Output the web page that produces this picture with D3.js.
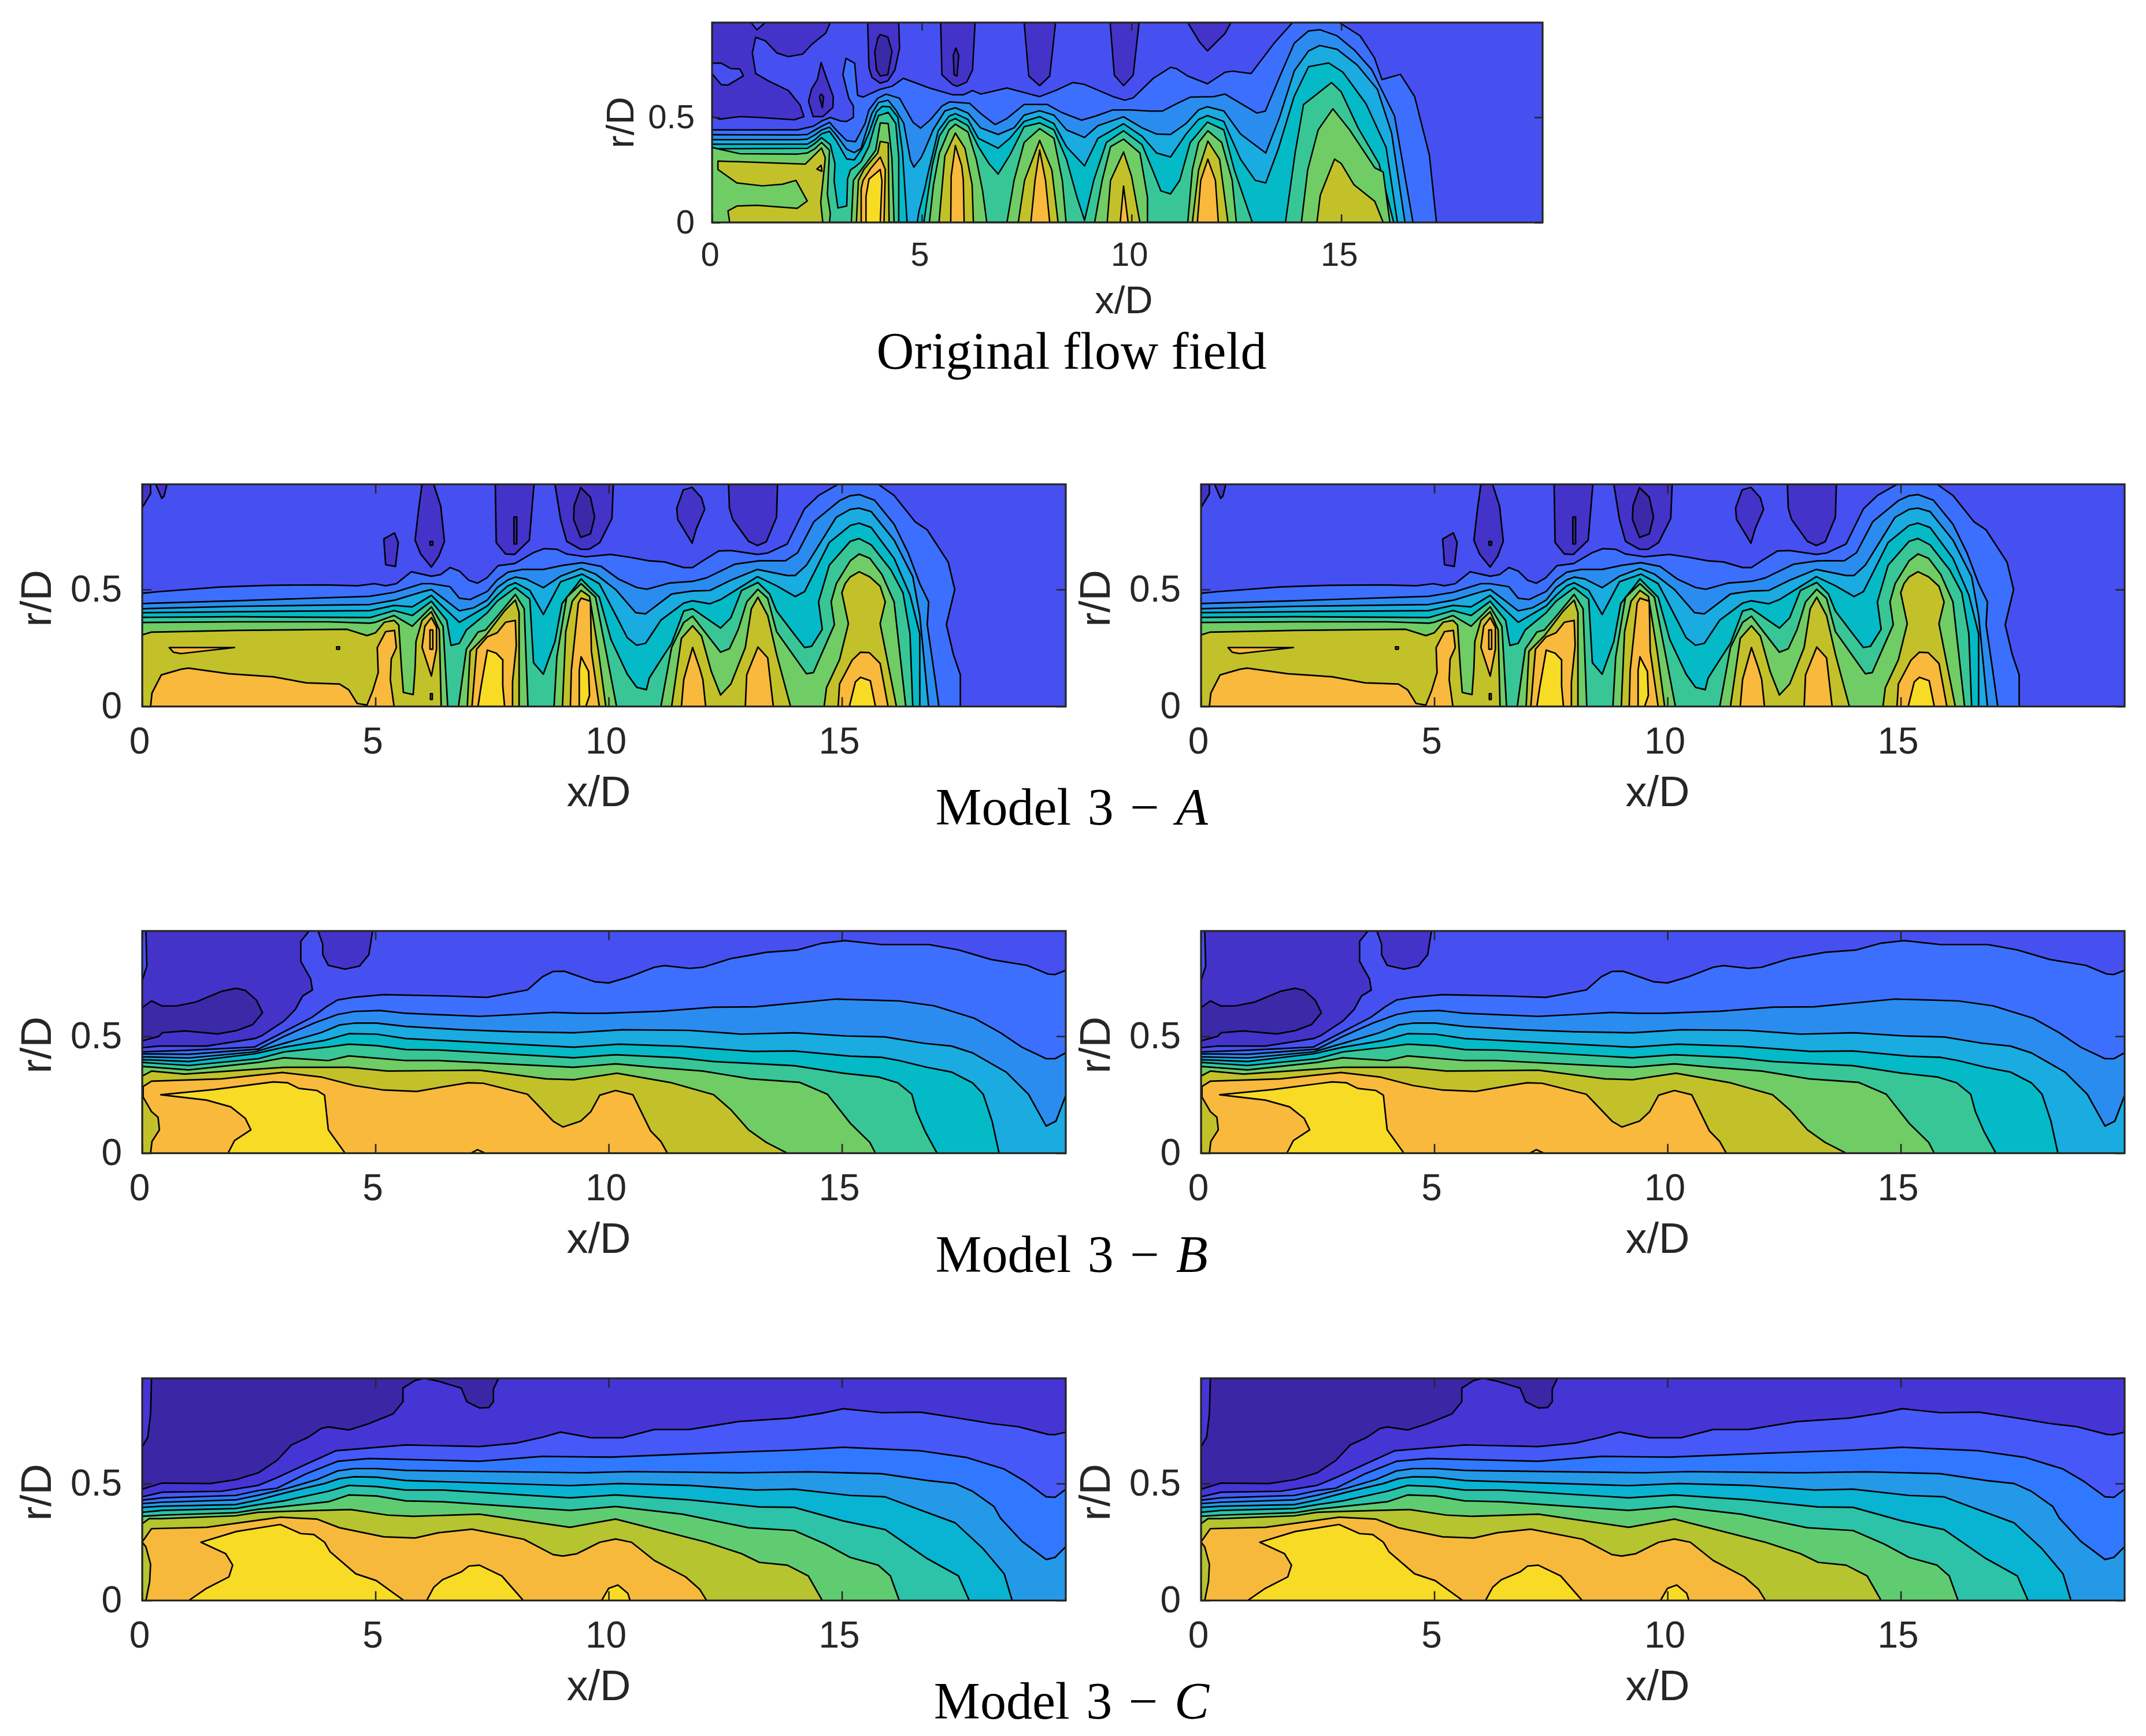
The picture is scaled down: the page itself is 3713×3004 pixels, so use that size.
<!DOCTYPE html>
<html><head><meta charset="utf-8"><style>html,body{margin:0;background:#fff}</style>
<script src="https://cdn.jsdelivr.net/npm/d3@7"></script></head><body><svg id="c" width="3713" height="3004" xmlns="http://www.w3.org/2000/svg"></svg>
<script>
// Contour outlines, as flat x/D, r/D lists.
const xTicks=[0,5,10,15], rTicks=[0,0.5];
const bandsAB=["#3b2aa8","#4433c9","#4650f0","#3c6ffe","#2b8cf0","#1aabe0","#04bac6","#38c697","#70cc64","#c2c12a","#f8b93c","#f7db24"];
const bandsC=["#3b27a5","#4535d5","#4658f7","#3078ff","#2499e8","#08b4d2","#2cc3a8","#60cc72","#b5c42f","#f7b93c","#f7db24"];

// ---- Original flow field
const oHole1=[0,.95,.93,.95,1.07,.915,1.27,.95,2.82,.95,2.71,.9,2.37,.845,2.16,.8,1.82,.788,1.55,.805,1.27,.863,1.04,.88,.96,.806,1.04,.708,1.34,.673,1.82,.627,2.1,.558,2.19,.503,1.96,.488,1.07,.5,.66,.503,.18,.491,0,.503,0,.707,.22,.655,.38,.653,.75,.697,.66,.73,.45,.731,.22,.757,0,.757];
const oHole2=[2.6,.76,2.71,.696,2.89,.598,2.88,.546,2.64,.503,2.41,.503,2.3,.575,2.37,.633,2.51,.679];
const oHole3=[3.71,.95,3.74,.737,3.81,.69,4.01,.662,4.19,.673,4.36,.725,4.47,.829,4.45,.95];
const oHole4=[5.45,.95,5.48,.702,5.73,.656,5.84,.647,6.07,.667,6.21,.725,6.27,.95];
const oHole5=[7.44,.95,7.55,.696,7.81,.65,8.05,.696,8.19,.95];
const oHole6=[9.49,.95,9.59,.7,9.81,.65,10.04,.7,10.18,.95];
const oHole7=[11.34,.95,11.62,.858,11.81,.815,12.23,.898,12.37,.95];
const oDeep1=[2.6,.61,2.66,.597,2.63,.545,2.56,.597];
const oDeep2=[4.01,.893,4.19,.881,4.29,.812,4.19,.702,4.01,.696,3.92,.725,3.88,.812,3.95,.875];
const oDeep3=[5.81,.829,5.88,.794,5.84,.696,5.77,.702,5.75,.794];
const oK3=[0,.44,1,.44,2.04,.44,2.41,.457,2.61,.482,2.82,.499,3.07,.482,3.21,.48,3.37,.499,3.37,.553,3.26,.59,3.12,.702,3.19,.78,3.4,.757,3.47,.604,3.6,.596,4.01,.633,4.29,.647,4.56,.685,5.18,.639,5.73,.607,6,.607,6.21,.627,6.41,.61,7.03,.639,7.37,.621,7.81,.598,8.19,.627,8.6,.665,8.88,.656,9.56,.598,9.84,.581,10.04,.592,10.52,.685,10.93,.737,11.07,.731,11.34,.696,11.81,.659,12.23,.714,12.41,.719,12.85,.708,13.4,.852,13.84,.95,14.95,.95,15.45,.887,15.79,.783,15.97,.679,16.41,.704,16.75,.598,17.1,.321,17.27,0,0,0];
const oK4=[0,.417,2.04,.416,2.27,.418,2.45,.439,2.61,.457,2.8,.476,2.96,.439,3.21,.389,3.42,.384,3.65,.471,3.74,.535,3.95,.59,4.15,.61,4.47,.59,4.79,.476,4.97,.448,5.21,.489,5.48,.553,5.66,.573,6.14,.566,6.41,.517,6.75,.465,7.03,.494,7.44,.561,7.99,.561,8.33,.523,8.81,.486,9.15,.506,9.56,.535,9.97,.535,10.45,.529,10.73,.529,11.07,.564,11.41,.596,11.96,.598,12.23,.61,12.99,.52,13.19,.529,13.53,.691,13.88,.852,14.22,.91,14.49,.916,14.9,.887,15.32,.818,15.73,.725,16.27,.506,16.71,0,0,0];
const oK5=[0,.393,2.04,.393,2.27,.396,2.45,.416,2.61,.439,2.8,.453,2.96,.416,3.21,.348,3.39,.332,3.55,.352,3.65,.416,3.81,.517,3.97,.57,4.2,.581,4.38,.535,4.57,.471,4.73,.297,4.81,.263,4.98,.307,5.07,.345,5.27,.44,5.55,.53,5.8,.545,6.1,.52,6.4,.45,6.82,.418,7.2,.45,7.44,.51,7.81,.531,8.15,.51,8.45,.44,8.88,.404,9.2,.46,9.81,.502,10.25,.45,10.6,.42,10.93,.418,11.3,.47,11.6,.535,11.81,.55,12.2,.53,12.6,.42,13.2,.33,13.53,.5,13.88,.72,14.22,.815,14.49,.841,14.9,.823,15.38,.748,15.86,.633,16.2,.425,16.52,0,0,0];
const oK6=[0,.372,2.27,.372,2.45,.393,2.61,.421,2.8,.433,2.96,.389,3.21,.302,3.39,.297,3.58,.352,3.74,.425,3.92,.526,4.06,.552,4.24,.549,4.43,.5,4.54,.334,4.65,0,4.89,0,4.93,.05,5.07,.16,5.16,.243,5.25,.316,5.39,.435,5.65,.505,5.8,.517,6.1,.49,6.35,.4,6.82,.353,7.1,.4,7.44,.48,7.81,.503,8.15,.47,8.45,.36,8.88,.269,9.2,.4,9.81,.469,10.25,.41,10.6,.33,10.93,.311,11.3,.42,11.6,.49,11.81,.508,12.2,.48,12.6,.3,12.95,.2,13.2,.188,13.5,.35,13.88,.6,14.22,.74,14.7,.758,15.04,.714,15.59,.564,16.07,.356,16.34,0,0,0];
const oK7=[0,.35,2.27,.352,2.45,.375,2.61,.403,2.82,.37,2.93,.279,2.91,.197,3,.069,3.21,.078,3.22,.133,3.23,.206,3.3,.25,3.42,.266,3.55,.288,3.74,.362,3.88,.462,3.97,.508,4.2,.523,4.38,.47,4.45,.31,4.45,0,5.05,0,5.12,.1,5.25,.27,5.42,.41,5.65,.48,5.8,.494,6.1,.46,6.35,.36,6.6,.28,6.82,.23,7.1,.32,7.44,.455,7.81,.473,8.15,.44,8.45,.3,8.7,.12,8.88,.01,9.1,.2,9.4,.38,9.81,.436,10.25,.37,10.5,.25,10.7,.15,10.93,.136,11.15,.2,11.4,.38,11.81,.477,12.2,.44,12.45,.25,12.88,0,13.67,0,13.9,.33,14.1,.56,14.77,.665,15,.62,15.4,.45,15.9,.28,16.25,0,0,0];
const oK8=[0,.356,.66,.327,2.04,.325,2.27,.33,2.45,.35,2.61,.38,2.8,.343,2.75,.133,2.82,.042,2.8,0,3.32,0,3.37,.2,3.46,.225,3.67,.28,3.9,.343,4.01,.473,4.2,.47,4.29,.3,4.34,0,5.18,0,5.28,.18,5.42,.33,5.65,.44,5.8,.467,6.1,.43,6.3,.3,6.45,.15,6.55,0,7.03,0,7.2,.2,7.44,.38,7.81,.446,8.15,.4,8.35,.2,8.44,0,9.12,0,9.3,.2,9.5,.36,9.81,.396,10.2,.33,10.38,.12,10.38,0,11.34,0,11.45,.25,11.6,.38,11.82,.436,12.15,.38,12.4,.2,12.5,0,14.05,0,14.2,.25,14.45,.44,14.8,.54,15.2,.44,15.8,.26,16,.24,16.16,0,0,0];
const oK9a=[.14,.292,2.04,.279,2.22,.277,2.61,.354,2.7,.307,2.59,.096,2.64,0,.42,0,.38,.055,.59,.078,1.07,.082,2.03,.067,2.27,.102,2,.2,1.68,.182,1.2,.174,.59,.188,.14,.252];
const oK9b=[3.44,0,3.49,.2,3.62,.252,3.95,.33,4.01,.385,4.2,.378,4.22,0,5.41,0,5.55,.316,5.8,.425,6.03,.352,6.2,.179,6.23,0,7.3,0,7.45,.2,7.81,.39,8.1,.25,8.25,0,9.42,0,9.5,.2,9.81,.335,10,.22,10.2,0,11.45,0,11.6,.25,11.82,.387,12.1,.3,12.3,0,14.42,0,14.5,.13,14.84,.301,15,.28,15.3,.18,15.8,.1,16,0];
const oK10=[3.555,0,3.555,.16,3.6,.2,3.78,.256,4.01,.311,4.13,.252,4.1,0,5.69,0,5.7,.22,5.8,.366,5.95,.27,5.99,.2,6.01,0,7.6,0,7.7,.2,7.81,.344,7.95,.2,8.05,0,9.73,0,9.81,.173,9.92,0,11.57,0,11.65,.2,11.82,.301,12,.2,12.07,0];
const oK10b=[2.5,.254,2.6,.272,2.62,.243];
const oK11=[3.67,0,3.67,.124,3.74,.206,4.01,.252,4.05,.197,4.01,0];

// ---- Model 3 - A
const aHole1=[0,.85,.18,.91,.18,.95,0,.95];
const aHole2=[.29,.95,.42,.89,.47,.9,.53,.95];
const aHole3=[5.18,.716,5.41,.742,5.49,.701,5.43,.599,5.22,.606];
const aHole4=[6,.95,6.25,.95,6.4,.857,6.48,.706,6.36,.643,6.2,.596,5.97,.652,5.85,.711,5.93,.848];
const aHole5=[7.57,.95,7.59,.701,7.79,.652,7.98,.65,8.3,.711,8.4,.95];
const aHole6=[8.85,.95,8.97,.8,9.1,.706,9.4,.672,9.58,.672,9.81,.701,10.07,.804,10.1,.95];
const aHole7=[11.79,.937,11.6,.926,11.46,.848,11.48,.8,11.79,.698,11.88,.76,12.06,.843,11.99,.892];
const aHole8=[12.57,.95,12.59,.848,12.66,.8,13,.706,13.19,.688,13.38,.704,13.6,.809,13.62,.95];
const aDeep1=[7.97,.81,8.03,.81,8.03,.695,7.97,.695];
const aDeep2=[9.4,.936,9.61,.895,9.7,.81,9.61,.738,9.4,.723,9.25,.799,9.26,.858];
const aDeep3=[6.17,.705,6.23,.705,6.23,.69,6.17,.69];
const aK3=[0,.484,.36,.491,1.7,.511,2.73,.518,3.91,.52,4.62,.516,4.98,.525,5.22,.516,5.45,.525,5.77,.576,6.2,.557,6.4,.564,6.6,.594,6.8,.579,7,.54,7.19,.527,7.39,.55,7.63,.602,7.99,.611,8.38,.657,8.62,.675,8.89,.672,9.1,.652,9.51,.64,10.04,.65,10.45,.638,10.86,.623,11.2,.618,11.61,.594,11.8,.594,12.02,.623,12.36,.665,12.62,.667,13.19,.65,13.41,.656,13.83,.695,14.2,.845,14.5,.902,14.92,.95,15.78,.95,16.12,.902,16.57,.79,16.83,.755,17.28,.617,17.42,.5,17.24,.35,17.39,.223,17.54,.135,17.54,0,0,0];
const aK4=[0,.44,2,.452,4.88,.471,5.4,.488,6,.525,6.2,.525,6.6,.512,6.8,.463,7.03,.457,7.4,.492,7.61,.541,7.84,.574,8.15,.586,8.6,.586,9.01,.603,9.43,.615,9.84,.599,10.21,.545,10.6,.509,10.82,.501,11.31,.528,11.8,.535,12.1,.55,12.7,.608,13.23,.623,13.79,.623,14.05,.657,14.4,.79,14.95,.88,15.18,.901,15.37,.906,15.7,.882,16.12,.779,16.42,.657,16.67,.525,16.86,.447,16.83,.35,17,.115,17.08,0,0,0];
const aK5=[0,.418,2,.428,4.88,.436,5.42,.455,6,.49,6.2,.5,6.45,.463,6.8,.409,7.11,.422,7.4,.455,7.61,.508,7.84,.541,8,.553,8.23,.545,8.6,.508,8.97,.557,9.41,.59,9.72,.566,10.15,.5,10.58,.401,10.79,.396,11.35,.481,11.8,.494,12.17,.496,12.62,.54,13.19,.586,13.83,.56,14,.56,14.24,.604,14.88,.809,15.18,.843,15.37,.848,15.63,.833,16.12,.711,16.52,.555,16.67,.389,16.86,0,0,0];
const aK6=[0,.401,2,.405,4.88,.41,5.4,.432,5.79,.426,6.2,.475,6.45,.426,6.8,.36,7.4,.43,7.61,.475,7.84,.516,8,.529,8.31,.496,8.6,.393,8.97,.533,9.43,.566,9.8,.525,10.21,.368,10.4,.294,10.6,.262,10.79,.27,11.12,.369,11.61,.442,11.8,.452,12.17,.439,12.4,.457,13.19,.555,13.6,.516,14,.47,14.2,.491,14.73,.701,15.18,.774,15.37,.784,15.63,.765,16.12,.633,16.46,.477,16.67,.311,16.67,0,0,0];
const aK7=[0,.381,2,.384,4.88,.38,5.4,.41,5.79,.389,6.2,.45,6.53,.368,6.62,.261,6.8,.27,6.95,.327,7.4,.401,7.61,.45,8,.508,8.31,.459,8.39,.187,8.6,.138,8.85,.278,9,.44,9.41,.545,9.8,.467,10.05,.286,10.4,.138,10.6,.082,10.81,.072,10.87,.121,11.08,.187,11.35,.27,11.61,.408,11.8,.418,12.4,.335,12.62,.379,12.85,.496,13.2,.53,13.45,.481,13.6,.408,13.97,.311,14.2,.252,14.35,.257,14.58,.33,14.5,.447,14.73,.604,15.18,.706,15.37,.718,15.63,.691,16.05,.584,16.31,.486,16.46,.311,16.52,0,0,0];
const aK8=[0,.359,2,.362,4,.362,4.88,.356,5,.36,5.4,.389,5.79,.343,6.2,.426,6.45,.343,6.55,0,6.78,0,6.95,.245,7.2,.318,7.36,.327,7.61,.385,8,.479,8.19,.418,8.27,0,8.83,0,8.89,.212,9.1,.467,9.41,.525,9.72,.467,9.96,.22,10.17,0,11.12,0,11.35,.252,11.61,.359,11.8,.386,12.4,.232,12.59,.247,12.78,.33,12.96,.447,13.2,.501,13.41,.462,13.6,.32,14.24,.14,14.39,.145,14.84,.35,14.77,.447,14.88,.525,15.18,.623,15.37,.652,15.6,.633,15.86,.564,16.12,.447,16.37,0,0,0];
const aK9=[0,.306,.2,.318,2,.325,4.39,.33,4.82,.303,5,.315,5.19,.36,5.4,.368,5.5,.348,5.56,.162,5.6,.06,5.81,.051,5.85,.162,5.87,.278,6,.368,6.2,.405,6.37,.327,6.41,0,6.97,0,7.03,.236,7.36,.302,7.77,.409,8,.455,8.08,.401,8.08,0,9.01,0,9.08,.319,9.22,.45,9.41,.496,9.59,.471,9.78,.236,9.94,0,11.35,0,11.56,.291,11.8,.345,11.99,.301,12.2,.15,12.4,.049,12.62,.096,12.93,.252,13.06,.418,13.2,.467,13.41,.389,13.6,.223,13.9,0,14.62,0,14.67,.08,14.95,.2,15.14,.354,15,.486,15.07,.525,15.18,.554,15.37,.576,15.6,.554,15.82,.514,15.93,.447,15.82,.354,15.93,.242,16.17,0,0,0];
const aK10a=[.18,0,.21,.057,.41,.135,.83,.159,.99,.164,1.86,.14,2.81,.127,3.52,.101,4.23,.096,4.43,.071,4.61,.013,4.82,.006,4.94,.066,5.06,.145,5.04,.252,5.22,.32,5.41,.325,5.45,.252,5.34,.203,5.32,.115,5.4,0];
const aK10b=[6.2,.38,6.31,.339,6.31,.245,6.2,.13,6,.253,6.06,.343];
const aK10c=[7.07,0,7.17,.245,7.4,.298,7.61,.315,7.79,.36,8,.368,8.02,.261,7.94,.105,7.94,0,9.18,0,9.2,.154,9.35,.442,9.41,.463,9.61,.45,9.63,.236,9.8,0,11.56,0,11.61,.115,11.8,.252,11.95,.164,12.02,.115,12.08,0,12.93,0,12.96,.135,13.2,.254,13.41,.208,13.53,0,14.92,0,14.95,.096,15.22,.198,15.4,.232,15.59,.23,15.82,.184,15.99,0];
const aK10d=[.58,.252,1.98,.252,.83,.226,.67,.232];
const aK10e=[6.18,.055,6.22,.055,6.22,.03,6.18,.03];
const aK10f=[4.17,.255,4.23,.255,4.23,.245,4.17,.245];
const aK11=[7.2,0,7.26,.08,7.4,.241,7.59,.228,7.73,.199,7.73,.088,7.77,0,9.37,0,9.37,.154,9.41,.212,9.57,.15,9.59,.047,9.51,0,15.16,0,15.29,.105,15.4,.125,15.61,.11,15.72,0];
const aK11b=[6.17,.327,6.23,.327,6.23,.245,6.17,.245];

// ---- Model 3 - B
const bHole1=[.08,.95,.1,.8,0,.737,0,.451,.36,.458,1.38,.458,2.41,.49,2.57,.503,3.04,.565,3.28,.614,3.44,.672,3.65,.698,3.61,.746,3.4,.82,3.4,.906,3.58,.95,3.77,.95,3.87,.894,3.87,.849,3.99,.803,4.35,.787,4.66,.8,4.86,.849,4.94,.95];
const bDeep=[0,.622,.2,.651,.43,.629,.75,.63,1.15,.646,1.7,.692,2.02,.705,2.21,.696,2.45,.654,2.58,.6,2.37,.55,2.02,.524,1.62,.51,.91,.523,.43,.515,.36,.5,0,.48];
const bK3=[0,.433,1,.44,2.41,.454,2.96,.511,3.64,.581,3.95,.626,4.19,.655,4.55,.667,5.18,.678,6.56,.672,7.39,.666,8.26,.698,8.58,.754,8.81,.777,9.05,.778,9.7,.733,10,.728,10.45,.754,10.98,.795,11.2,.802,11.73,.79,12.02,.795,12.62,.832,13.38,.859,14.05,.869,14.58,.898,15.07,.909,15.85,.892,16.87,.892,17.5,.869,18.2,.828,18.97,.803,19.42,.766,19.57,.764,19.9,.79,19.9,0,0,0];
const bK4=[0,.425,1,.423,2.49,.445,3.04,.499,3.68,.556,4.19,.593,4.55,.606,5.1,.61,5.65,.598,7.23,.585,8.02,.593,8.81,.602,9.35,.598,9.92,.598,11.12,.607,12.25,.624,13.15,.626,14.88,.659,16.23,.651,16.98,.63,17.84,.577,18.4,.515,18.86,.453,19.38,.404,19.57,.404,19.9,.44,19.9,0,0,0];
const bK5=[0,.412,1,.407,2.41,.433,3.12,.474,3.83,.515,4.23,.548,4.55,.556,5.02,.556,5.65,.542,6.84,.528,8.02,.519,9.25,.515,10.3,.528,11.73,.525,12.85,.509,14,.515,15.1,.501,15.93,.497,16.75,.47,17.35,.458,17.8,.429,18.52,.347,19,.252,19.38,.116,19.59,.137,19.9,.3,19.9,0,0,0];
const bK6=[0,.4,1,.392,2.41,.425,3.04,.453,3.91,.482,4.43,.511,5.02,.509,5.65,.49,6.84,.478,9.25,.453,10.22,.466,11.58,.457,13.07,.435,13.98,.437,15.18,.415,15.85,.41,16.23,.396,16.83,.367,17.35,.347,17.8,.301,18.03,.252,18.22,.137,18.37,0,0,0];
const bK7=[0,.388,1,.375,2.49,.404,3.04,.433,3.99,.454,4.43,.466,5.02,.46,5.65,.443,6.36,.441,9.25,.408,10.15,.421,11.5,.408,12.25,.392,13.98,.374,15.03,.342,15.78,.326,16.2,.301,16.5,.252,16.6,.178,16.79,.091,17.04,0,0,0];
const bK8=[0,.371,1,.356,2.49,.388,3.04,.408,3.99,.396,4.43,.416,5.65,.396,6.36,.396,9.25,.367,10.15,.382,10.98,.367,12.02,.351,13.04,.318,14.09,.303,14.69,.252,15.18,.128,15.6,.046,15.72,0,0,0];
const bK9=[0,.33,.2,.351,.91,.338,3.04,.367,4.43,.367,5.26,.351,7.23,.355,8.66,.318,9.25,.314,10.18,.342,11.35,.301,12.25,.25,12.62,.186,13,.1,13.38,.046,13.83,0,0,0];
const bK10=[.18,0,.21,.05,.37,.1,.34,.154,.2,.178,.02,.24,.02,.285,.2,.308,1.7,.318,3,.345,3.83,.326,4.55,.289,5.18,.27,5.89,.264,6.45,.284,6.99,.301,7.31,.299,8.26,.252,8.81,.137,9.02,.112,9.4,.137,9.62,.178,9.81,.248,10.15,.268,10.52,.25,10.9,.095,11.12,.05,11.26,0];
const bK11=[.4,.25,1.54,.272,2.81,.305,3.12,.301,3.36,.277,3.75,.268,3.91,.248,3.99,.1,4.35,0,1.84,0,1.98,.054,2.33,.1,2.21,.149,1.9,.198,1.38,.227];
const bK11b=[7.05,0,7.19,.015,7.35,0];

// ---- Model 3 - C
const cDeep=[.2,.95,.18,.797,.12,.698,0,.657,0,.476,.43,.502,1.46,.5,2.02,.517,2.49,.546,2.89,.599,3.2,.665,3.56,.698,3.83,.735,3.99,.742,4.43,.729,4.86,.756,5.38,.798,5.59,.85,5.59,.908,5.85,.941,6.05,.95,6.36,.937,6.84,.908,6.96,.85,7.23,.823,7.43,.825,7.53,.85,7.53,.904,7.64,.95];
const cK2=[0,.443,.43,.463,1.7,.467,2.49,.492,2.89,.525,3.52,.583,4.15,.64,5.65,.665,7.23,.658,8.02,.673,8.58,.698,8.97,.72,9.62,.696,10.3,.696,10.98,.731,11.73,.731,12.78,.765,13.9,.78,14.58,.801,15.03,.82,15.85,.803,16.68,.805,17.43,.782,18.22,.756,18.78,.743,19.42,.71,19.57,.709,19.9,.725,19.9,0,0,0];
const cK3=[0,.429,.43,.439,2,.449,2.49,.47,2.89,.48,3.52,.542,4.19,.595,4.86,.607,7.23,.595,8.58,.616,9.47,.614,10.07,.613,11.87,.628,13.98,.643,15.03,.655,16.68,.64,17.66,.612,18.48,.562,18.93,.509,19.38,.443,19.57,.441,19.9,.49,19.9,0,0,0];
const cK4=[0,.414,.43,.42,2,.43,2.49,.45,3.12,.48,3.75,.517,4.19,.554,4.55,.564,5.02,.564,5.65,.556,9.47,.546,10.45,.551,12.85,.546,14.28,.55,15.85,.542,16.83,.513,17.43,.5,17.8,.467,18.26,.402,18.4,.352,18.86,.253,19.38,.175,19.57,.184,19.9,.25,19.9,0,0,0];
const cK5=[0,.398,.43,.403,2,.41,2.49,.43,3.12,.463,3.91,.5,4.23,.521,4.55,.529,5.02,.527,5.65,.513,9.17,.491,10.22,.5,11.73,.492,13.15,.472,13.98,.476,15.18,.449,15.93,.443,16.6,.393,17.43,.332,18.03,.221,18.48,.114,18.65,0,0,0];
const cK6=[0,.377,.43,.385,2,.393,2.49,.41,3.04,.426,3.99,.467,4.43,.492,5.02,.487,5.65,.472,6.44,.472,9.17,.439,10.15,.451,11.73,.43,13.23,.4,13.98,.398,15.03,.34,15.93,.303,16.83,.179,17.5,.105,17.73,0,0,0];
const cK7=[0,.36,.43,.365,2,.375,2.49,.39,3.04,.402,3.99,.422,4.43,.451,5.02,.447,5.65,.426,6.44,.422,9.17,.385,10.15,.402,11.58,.369,13,.311,13.98,.299,14.65,.241,15.18,.184,15.78,.151,16.04,.105,16.23,0,0,0];
const cK8=[0,.328,.15,.35,.43,.35,2,.362,2.49,.377,3.04,.381,4.47,.389,5.26,.365,5.81,.36,7.23,.369,9.17,.313,10.15,.348,12.1,.249,12.85,.2,13.23,.163,13.83,.151,14.28,.105,14.58,0,0,0];
const cK9=[0,.25,.2,.307,1.38,.313,2.96,.356,3.75,.348,4.23,.311,5.18,.272,5.85,.267,6.36,.29,7.07,.305,8.18,.262,8.81,.196,9.02,.19,9.32,.2,9.81,.249,10.15,.263,10.49,.249,10.98,.171,11.65,.101,11.95,.048,12.1,0,.08,0,.16,.08,.18,.155,.08,.229];
const cK10a=[1.26,.249,2.02,.295,2.96,.325,3.4,.286,3.68,.282,3.91,.249,4.03,.208,4.58,.114,5.02,.085,5.61,0,1,0,1.38,.052,1.86,.101,1.94,.151,1.79,.2];
const cK10b=[6.1,0,6.25,.056,6.44,.089,6.84,.122,7,.147,7.23,.151,7.71,.105,8.17,0];
const cK10c=[9.85,0,10,.052,10.2,.066,10.41,.031,10.46,0];

const layersO=[[1,oHole1],[1,oHole2],[1,oHole3],[1,oHole4],[1,oHole5],[1,oHole6],[1,oHole7],[0,oDeep1],[0,oDeep2],[0,oDeep3],[3,oK3],[4,oK4],[5,oK5],[6,oK6],[7,oK7],[8,oK8],[9,oK9a],[9,oK9b],[10,oK10],[10,oK10b],[11,oK11]];
const layersA=[[1,aHole1],[1,aHole2],[1,aHole3],[1,aHole4],[1,aHole5],[1,aHole6],[1,aHole7],[1,aHole8],[0,aDeep1],[0,aDeep2],[0,aDeep3],[3,aK3],[4,aK4],[5,aK5],[6,aK6],[7,aK7],[8,aK8],[9,aK9],[10,aK10a],[10,aK10b],[10,aK10c],[10,aK10d],[10,aK10e],[10,aK10f],[11,aK11],[11,aK11b]];
const layersB=[[1,bHole1],[0,bDeep],[3,bK3],[4,bK4],[5,bK5],[6,bK6],[7,bK7],[8,bK8],[9,bK9],[10,bK10],[11,bK11],[11,bK11b]];
const layersC=[[0,cDeep],[2,cK2],[3,cK3],[4,cK4],[5,cK5],[6,cK6],[7,cK7],[8,cK8],[9,cK9],[10,cK10a],[10,cK10b],[10,cK10c]];

const svg=d3.select("#c");
const INK="#262626", SANS="'Liberation Sans',Arial,sans-serif", SERIF="'Liberation Serif',serif";
const pairs=a=>d3.range(0,a.length,2).map(i=>[a[i],a[i+1]]);
let clipId=0;

function panel(px,py,w,h,layers,colors,base,o){
  const x=d3.scaleLinear().domain([0,19.8]).range([0,w]);
  const y=d3.scaleLinear().domain([0,0.95]).range([h,0]);
  const g=svg.append("g").attr("transform",`translate(${px},${py})`);
  const id="clip"+(clipId++);
  g.append("clipPath").attr("id",id).append("rect").attr("width",w).attr("height",h);
  const plot=g.append("g").attr("clip-path",`url(#${id})`);
  plot.append("rect").attr("width",w).attr("height",h).attr("fill",colors[base]);
  const line=d3.line().x(d=>x(d[0])).y(d=>y(d[1]));
  plot.selectAll("path").data(layers).join("path")
    .attr("d",d=>line(pairs(d[1]))+"Z")
    .attr("fill",d=>colors[d[0]]).attr("stroke","#000").attr("stroke-width",o.lw).attr("stroke-linejoin","round");
  const style=s=>{s.select(".domain").remove();s.selectAll("line").attr("stroke",INK).attr("stroke-width",2.6);
    s.selectAll("text").attr("fill",INK).attr("font-family",SANS).attr("font-size",o.fs);};
  g.append("g").attr("transform",`translate(0,${h})`).call(d3.axisBottom(x).tickValues(xTicks).tickSizeInner(-o.tick).tickSizeOuter(0).tickPadding(o.padX)).call(style).selectAll("text").attr("dx",o.tdx);
  g.append("g").call(d3.axisTop(x).tickValues(xTicks).tickSizeInner(-o.tick).tickSizeOuter(0).tickFormat("")).call(style);
  g.append("g").call(d3.axisLeft(y).tickValues(rTicks).tickSizeInner(-o.tick).tickSizeOuter(0).tickPadding(o.padY).tickFormat(d=>d)).call(style);
  g.append("g").attr("transform",`translate(${w},0)`).call(d3.axisRight(y).tickValues(rTicks).tickSizeInner(-o.tick).tickSizeOuter(0).tickFormat("")).call(style);
  g.append("rect").attr("width",w).attr("height",h).attr("fill","none").attr("stroke",INK).attr("stroke-width",3.2);
  g.append("text").attr("x",w/2+o.labX).attr("y",h+o.labY).attr("text-anchor","middle").attr("font-family",SANS).attr("font-size",o.ls).attr("fill",INK).text("x/D");
  g.append("text").attr("transform",`translate(${-o.labR},${h/2+o.labRy}) rotate(-90)`).attr("text-anchor","middle").attr("font-family",SANS).attr("font-size",o.ls).attr("fill",INK).text("r/D");
}
const big={lw:2.7,fs:64,ls:74,tick:16,padX:36,padY:35,labX:-9,labY:172,labR:158,labRy:5,tdx:-5};
const small={lw:2.5,fs:58,ls:67,tick:14,padX:34,padY:30,labX:-6,labY:157,labR:136,labRy:0,tdx:-4};
panel(1232,39,1437,346,layersO,bandsAB,2,small);
[[838,layersA,bandsAB,2],[1611,layersB,bandsAB,2],[2385,layersC,bandsC,1]].forEach(([py,l,c,b])=>{
  panel(246,py,1598,384.5,l,c,b,big);
  panel(2078,py,1598,384.5,l,c,b,big);
});
function title(y,main,ital){
  const t=svg.append("text").attr("x",1854).attr("y",y).attr("text-anchor","middle").attr("font-family",SERIF).attr("font-size",90).attr("fill","#000").attr("word-spacing",ital?6:0);
  t.append("tspan").text(main);
  if(ital)t.append("tspan").attr("font-style","italic").text(ital);
}
title(638,"Original flow field");
title(1427,"Model 3 \u2212 ","A");
title(2201,"Model 3 \u2212 ","B");
title(2974,"Model 3 \u2212 ","C");
</script></body></html>
